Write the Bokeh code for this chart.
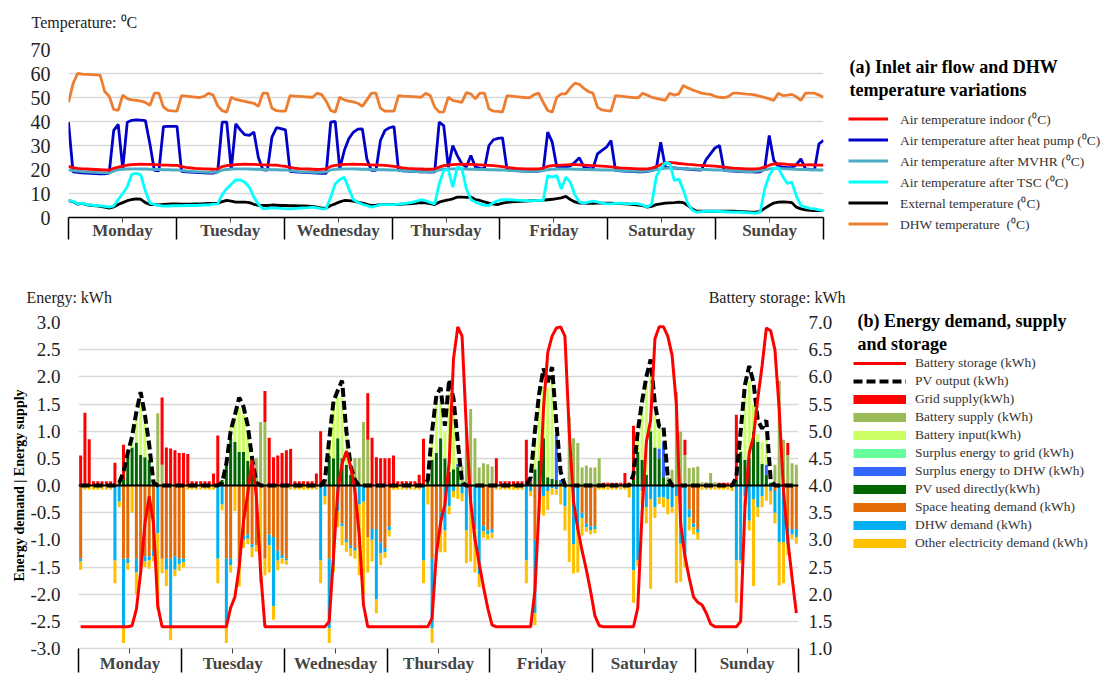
from bokeh.plotting import figure
from bokeh.models import (ColumnDataSource, Range1d, LinearAxis, FixedTicker, Legend, LegendItem,
                          Label, Span, NumeralTickFormatter, CustomJSTickFormatter)
from bokeh.layouts import row
from bokeh.embed import file_html
from bokeh.resources import INLINE

SERIF = "Liberation Serif"
days = ["Monday", "Tuesday", "Wednesday", "Thursday", "Friday", "Saturday", "Sunday"]

# ---------------- (a) temperatures, hourly (Mon 0h .. Sun 23h) ----------------
t_indoor = [
    21.3,20.8,20.5,20.3,20.2,20.1,20.0,19.9,19.8,19.7,20.5,21.0,21.4,21.8,22.0,22.1,22.2,22.1,22.1,22.0,21.9,21.8,21.8,21.7,
    21.7,21.2,20.9,20.7,20.5,20.4,20.3,20.2,20.1,20.3,21.2,21.6,21.8,22.0,22.1,22.2,22.1,22.1,22.0,21.9,21.9,21.8,21.8,21.5,
    21.3,20.9,20.6,20.4,20.3,20.2,20.1,20.0,20.1,20.3,21.3,21.7,21.9,22.1,22.1,22.2,22.1,22.1,22.0,21.9,21.8,21.8,21.7,21.5,
    21.3,21.0,20.7,20.5,20.4,20.3,20.2,20.1,20.1,20.3,21.0,21.6,21.8,22.0,22.1,22.2,22.1,22.1,22.0,21.9,21.8,21.7,21.6,21.4,
    21.2,20.9,20.7,20.5,20.4,20.3,20.2,20.2,20.3,20.6,21.3,21.6,21.7,21.8,21.9,22.0,22.0,21.9,21.8,21.7,21.6,21.5,21.4,21.3,
    21.1,20.9,20.7,20.6,20.5,20.4,20.3,20.2,20.3,20.6,21.2,22.0,22.6,23.0,22.8,22.5,22.3,22.1,22.0,21.8,21.7,21.6,21.5,21.4,
    21.2,21.0,20.8,20.6,20.5,20.4,20.3,20.2,20.3,20.5,21.0,21.8,22.3,22.4,22.3,22.1,22.0,21.9,21.8,21.9,22.0,21.9,21.8,21.8,
]
t_heatpump = [
    39.7,19.0,18.8,18.6,18.5,18.4,18.3,18.2,18.2,18.5,36.3,38.8,20.3,39.7,40.5,40.7,40.6,40.4,30.7,19.6,19.4,37.9,38.0,38.0,
    38.0,19.2,19.0,18.9,18.8,18.7,18.6,18.5,18.5,19.0,39.7,39.7,19.9,39.0,36.5,34.5,34.2,35.6,25.0,19.9,19.8,33.5,37.4,37.0,
    36.5,19.2,19.0,18.9,18.8,18.7,18.6,18.5,18.4,18.4,39.7,40.1,20.3,27.9,32.8,35.5,36.8,36.9,24.4,19.6,19.6,32.1,36.3,37.4,
    37.9,19.6,19.4,19.3,19.2,19.1,19.0,19.0,18.9,19.0,39.7,38.3,21.0,30.0,25.8,22.4,21.0,25.8,21.0,20.5,20.3,30.0,32.4,33.0,
    33.2,19.9,19.6,19.5,19.4,19.3,19.2,19.2,19.3,19.6,35.6,31.4,21.0,21.0,21.0,21.5,23.0,24.9,21.0,20.5,20.3,26.5,28.0,29.3,
    32.1,19.6,19.4,19.3,19.2,19.1,19.0,19.0,19.2,19.5,20.3,31.4,21.0,20.8,20.7,20.5,20.3,20.2,20.0,19.9,19.8,24.0,26.5,29.0,
    30.0,19.6,19.4,19.3,19.2,19.1,19.0,19.0,18.9,19.0,20.3,34.2,23.8,21.3,21.0,20.8,20.8,22.0,24.4,20.3,20.0,19.8,30.7,32.1,
]
t_mvhr = [
    19.8,19.5,19.3,19.1,19.0,18.9,18.8,18.7,18.6,18.6,19.3,19.9,20.1,20.2,20.3,20.3,20.2,20.2,20.1,20.0,20.0,19.9,19.9,19.8,
    19.8,19.5,19.3,19.2,19.1,19.0,18.9,18.8,18.8,19.0,19.7,20.0,20.2,20.3,20.3,20.3,20.2,20.1,20.1,20.0,20.0,19.9,19.9,19.8,
    19.8,19.5,19.3,19.1,19.0,18.9,18.8,18.8,18.8,19.0,19.8,20.1,20.2,20.3,20.3,20.3,20.2,20.1,20.1,20.0,20.0,19.9,19.9,19.8,
    19.8,19.6,19.4,19.3,19.2,19.1,19.0,19.0,19.0,19.2,19.8,20.1,20.3,20.3,20.3,20.3,20.2,20.1,20.1,20.0,20.0,19.9,19.9,19.8,
    19.8,19.6,19.5,19.4,19.3,19.2,19.2,19.2,19.3,19.5,19.9,20.1,20.2,20.2,20.2,20.2,20.1,20.1,20.0,20.0,19.9,19.9,19.8,19.8,
    19.7,19.6,19.5,19.4,19.3,19.2,19.2,19.2,19.3,19.5,19.9,20.3,20.6,20.8,20.7,20.5,20.4,20.3,20.2,20.1,20.0,20.0,19.9,19.8,
    19.8,19.6,19.5,19.4,19.3,19.2,19.1,19.1,19.2,19.4,19.8,20.3,20.5,20.5,20.4,20.3,20.2,20.1,20.0,20.0,19.9,19.9,19.8,19.8,
]
t_tsc = [
    7.1,6.7,5.7,6.0,5.4,5.2,5.0,4.8,4.6,4.3,4.8,7.5,10.0,12.8,18.0,18.4,17.8,11.0,6.0,5.4,5.0,4.7,4.8,4.9,
    4.9,4.9,5.0,5.0,5.0,5.1,5.2,5.3,5.6,5.7,9.5,12.0,13.8,15.7,15.6,14.7,12.6,8.5,5.5,3.6,3.8,4.0,3.9,3.8,
    3.6,3.6,3.7,3.9,4.0,4.1,4.3,4.0,3.6,3.6,8.5,14.0,15.8,16.8,12.0,7.5,6.3,5.5,5.0,4.3,4.8,5.4,5.4,5.4,
    5.4,5.6,5.8,6.0,6.3,6.8,7.4,7.0,6.3,5.6,14.0,19.6,20.0,12.6,21.0,20.5,12.0,7.5,6.4,5.6,5.2,5.0,6.2,7.0,
    7.4,7.4,7.4,7.2,7.1,7.0,6.9,7.0,7.1,7.1,17.5,16.8,17.5,11.9,16.8,14.7,9.5,6.5,6.0,6.4,6.8,6.5,6.0,5.8,
    5.7,5.9,6.0,5.8,5.7,5.9,5.7,5.2,4.3,5.5,17.0,20.5,22.8,22.5,15.5,16.0,11.5,5.7,3.0,2.2,2.4,2.6,2.6,2.6,
    2.5,2.4,2.3,2.2,2.2,2.1,2.0,1.9,1.8,2.2,12.0,17.5,20.5,20.8,17.0,14.2,14.7,9.0,5.0,4.3,3.8,3.6,3.2,2.9,
]
t_external = [
    7.0,6.6,5.6,5.9,5.3,5.1,4.9,4.6,4.3,3.9,4.4,5.4,6.2,7.0,7.5,7.8,7.6,6.2,5.4,5.4,5.3,5.5,5.6,5.7,
    5.7,5.6,5.6,5.6,5.7,5.7,5.8,5.9,5.9,6.0,6.6,7.1,6.8,6.4,6.4,6.4,6.2,5.5,5.0,5.0,5.0,5.2,5.1,5.0,
    5.0,4.9,4.9,4.8,4.8,4.7,4.6,4.3,3.9,3.9,5.0,5.7,6.5,7.1,7.0,6.8,6.4,6.0,5.5,5.0,5.2,5.4,5.4,5.4,
    5.4,5.5,5.6,5.7,5.8,6.0,6.2,6.1,5.8,5.4,6.4,6.9,7.3,7.8,8.5,8.5,8.4,8.5,7.5,7.1,6.5,6.0,5.6,5.4,
    6.0,6.3,6.5,6.6,6.7,6.8,6.9,7.0,7.1,7.2,7.4,7.6,7.9,8.2,8.8,7.5,6.5,6.0,6.0,5.9,5.9,6.0,6.0,6.0,
    6.0,5.9,5.8,5.7,5.6,5.4,5.2,4.9,4.3,4.6,5.4,5.7,6.0,6.1,6.2,6.4,6.2,5.0,3.5,2.6,2.6,2.6,2.6,2.6,
    2.6,2.6,2.6,2.6,2.5,2.4,2.3,2.2,2.2,2.6,3.8,5.0,6.0,6.4,6.5,6.4,6.2,4.3,3.6,3.2,3.0,2.9,2.9,2.9,
]
t_dhw = [
    48.0,55.7,60.0,59.7,59.6,59.5,59.4,59.3,52.5,50.5,45.0,44.6,51.0,49.5,49.0,48.8,48.5,48.0,46.7,51.8,51.8,46.0,44.6,44.4,
    44.3,50.8,50.6,50.4,50.2,50.0,50.5,51.8,51.0,46.5,44.5,43.9,50.1,49.2,48.8,48.4,48.0,47.6,46.3,51.8,51.8,45.5,44.5,44.3,
    44.3,50.8,50.6,50.5,50.4,50.2,50.1,51.8,51.2,48.5,44.6,43.9,50.1,49.0,48.5,48.2,47.6,46.3,49.0,51.8,51.8,45.5,44.3,44.3,
    44.3,50.8,50.6,50.5,50.4,50.3,50.1,51.8,50.8,46.0,43.9,44.0,50.1,48.8,48.4,48.0,52.0,51.5,49.4,51.8,51.8,45.3,44.3,44.2,
    43.9,50.8,50.6,50.4,50.2,50.0,49.9,51.2,51.8,48.0,44.6,43.9,50.1,51.5,51.5,54.0,56.0,55.5,53.8,52.5,51.8,46.0,44.8,44.5,
    44.3,50.8,50.6,50.4,50.2,50.0,49.9,51.8,51.0,50.1,49.6,49.2,48.8,51.8,51.0,51.5,55.0,54.0,53.2,52.5,51.8,51.5,51.3,50.5,
    50.1,49.9,50.5,51.8,51.8,51.6,51.4,51.3,51.0,50.5,50.0,49.4,48.8,51.8,50.8,51.0,51.3,50.3,48.8,51.8,51.8,51.8,51.0,50.1,
]
hours = list(range(168))

# ---------------- (b) energy, hourly ----------------
grid_supply = (
    [.55,1.34,.85,.08,.08,.08,.08,.08,.42,0,.65,0,0,0,0,0,0,0,0,1.24,.7,.68,.65,.6] +
    [.6,.58,.08,.08,.08,.08,.08,.22,.92,0,0,0,0,0,0,0,0,0,0,.57,.88,.52,.55,.6] +
    [.65,.67,.08,.08,.08,.08,.08,.22,1.0,.05,0,0,0,0,0,0,0,0,0,.86,.88,.52,.5,.5] +
    [.5,.55,.08,.08,.08,.08,.08,.2,.86,.05,0,0,0,0,0,0,0,0,0,0,0,0,0,0] +
    [0,.5,.08,.08,.08,.08,.08,.08,.84,.05,0,0,0,0,0,0,0,0,0,0,0,0,0,0] +
    [0,0,.05,.05,.05,.05,.05,.23,.05,1.0,0,0,0,0,0,0,0,0,0,0,0,.28,0,0] +
    [0,0,0,0,0,.05,.05,.05,.05,1.2,0,0,0,0,0,0,0,0,0,0,0,.22,0,0]
)
battery_supply = (
    [0]*18 + [1.33,.38,0,0,0,0] +
    [0]*17 + [.5,1.17,1.17,0,0,0,0] +
    [0]*16 + [.45,.5,1.17,.84,0,0,0,0] +
    [0]*17 + [.3,1.05,1.41,.87,.33,.41,.39] +
    [.35] + [0]*16 + [.05,1.26,.87,.78,.33,.37,.33] +
    [.33,.5] + [0]*15 + [.1,.29,1.72,.99,.56,.32,.33] +
    [.35,.06,.06,.23,.06] + [0]*13 + [.38,1.93,.84,.56,.41,.38]
)
battery_input = (
    [0]*11 + [.1,.17,.44,.96,.7,.1] + [0]*7 +
    [0]*11 + [.21,.46,.81,.68,.55,.25] + [0]*7 +
    [0]*10 + [.25,1.05,.75,1.12,.55,.1,0] + [0]*7 +
    [0]*10 + [.4,.95,.75,.5,1.45,1.1,.1] + [0]*7 +
    [0]*10 + [.55,1.1,.95,1.65,1.8,0,0] + [0]*7 +
    [0]*10 + [.2,1.0,1.73,1.1,.6,.35,0] + [0]*7 +
    [0]*10 + [.2,1.18,1.43,.5,.15,.4,.6] + [0]*7
)
surplus_grid = [0] * 168
surplus_dhw = (
    [0]*24 + [0]*24 + [0]*24 +
    [0]*16 + [.05] + [0]*7 +
    [0]*15 + [.83,.05] + [0]*7 +
    [0]*15 + [.18,.65] + [0]*7 +
    [0]*16 + [.18] + [0]*7
)
pv_direct = (
    [0]*9 + [.05,.1,.56,.7,.79,.56,.52,.47,.05] + [0]*6 +
    [0]*9 + [.1,.38,.87,.8,.62,.62,.45,.3,0] + [0]*6 +
    [0]*9 + [.05,.55,.5,.87,.5,.38,.2,.05,0] + [0]*6 +
    [0]*9 + [.08,.47,.6,.87,.5,.25,.3,.35,.05] + [0]*6 +
    [0]*9 + [.05,.3,.45,.87,.15,.12,.1,.05,0] + [0]*6 +
    [0]*9 + [.1,.62,.47,.2,1.0,.7,.5,.15,.05] + [0]*6 +
    [0]*9 + [.1,.62,.47,.5,1.0,.8,.4,.2,.05] + [0]*6
)
pv_output = (
    [0]*9 + [.05,.25,.6,.9,1.35,1.72,1.3,.75,.05] + [0]*6 +
    [0]*9 + [.05,.4,1.0,1.3,1.62,1.45,1.1,.5,.05] + [0]*6 +
    [0]*9 + [.1,.85,1.55,1.75,1.93,1.0,.35,.1,0] + [0]*6 +
    [0]*9 + [.1,1.0,1.65,1.8,1.1,1.95,1.6,.8,.05] + [0]*6 +
    [0]*9 + [.15,1.0,1.7,2.15,1.9,2.18,1.15,.25,0] + [0]*6 +
    [0]*9 + [.2,1.0,1.55,2.0,2.32,1.5,1.08,1.08,.15] + [0]*6 +
    [0]*9 + [.15,1.0,1.85,2.2,1.9,1.2,1.05,1.2,.1] + [0]*6
)
space_heating = (
    [1.35,0,0,0,0,0,0,0,0,0,1.35,1.35,0,1.35,1.35,1.3,1.3,1.2,0,1.35,1.35,1.35,1.3,1.35] +
    [1.35,0,0,0,0,0,0,0,0,0,1.35,1.35,0,1.35,.93,.9,1.08,1.1,0,1.35,.9,.95,1.2,1.28] +
    [1.35,0,0,0,0,0,0,0,0,0,1.35,1.35,0,.7,1.0,1.1,1.15,0,0,.95,.8,.8,1.05,1.15] +
    [.75,0,0,0,0,0,0,0,0,0,1.35,1.2,.5,0,0,0,0,0,0,0,0,0,.74,.83] +
    [.8,0,0,0,0,0,0,0,0,0,1.0,0,0,0,0,0,0,0,0,0,0,.5,.7,.75] +
    [.75,0,0,0,0,0,0,0,0,0,0,0,0,0,0,0,0,0,0,0,0,0,.44,.7] +
    [.8,0,0,0,0,0,0,0,0,0,0,0,0,0,0,0,0,0,.1,0,0,.77,.8,.8]
)
dhw_demand = (
    [.05,0,0,0,0,0,0,0,1.38,.3,1.28,.08,0,.25,.15,.1,.08,.1,.88,0,.2,1.25,.25,.1] +
    [.06,0,0,0,0,0,0,0,1.35,.35,1.25,.12,0,.06,.08,.08,.06,0,0,0,.2,1.27,.18,.06] +
    [.03,0,0,0,0,0,0,0,1.38,.2,1.28,.12,.47,.05,.05,.05,.05,.35,.3,0,.2,1.3,.2,.08] +
    [.07,0,0,0,0,0,0,0,1.38,0,1.28,.05,.2,.83,.38,.1,0,.15,.83,.3,.8,1.63,.1,.07] +
    [.07,0,0,0,0,0,0,0,1.38,.1,1.35,.2,.2,.1,.05,.07,0,.38,0,1.08,.8,.1,.07,.07] +
    [.05,0,0,0,0,0,0,0,0,1.56,1.38,.1,.4,.25,.4,.22,.22,.25,.4,.2,1.07,1.28,.15,.07] +
    [.07,0,0,0,0,0,0,0,0,1.38,1.38,.2,.65,.25,.4,.2,0,.1,.4,1.04,1.04,.3,.1,.15]
)
other_demand = (
    [.15,.08,.08,.08,.08,.08,.08,.08,.42,.1,.27,.12,.5,.4,.12,.1,.15,.1,1.4,.27,.3,.25,.12,.12] +
    [.1,.08,.08,.08,.08,.08,.08,.08,.45,.11,.3,.13,.47,.45,.14,.1,.18,.12,1.8,.3,.5,.25,.18,.1] +
    [.08,.08,.08,.08,.08,.08,.08,.08,.42,.15,.27,.12,.3,.35,.17,.15,.15,1.3,1.7,.65,.4,.25,.22,.1] +
    [.12,.08,.08,.08,.08,.08,.08,.08,.42,.35,.27,.15,.53,.4,.15,.12,.25,.14,.6,1.1,.8,.24,.12,.1] +
    [.1,.08,.08,.08,.08,.08,.08,.08,.42,.1,.22,.3,.35,.35,.12,.1,.35,.45,1.41,.54,.8,.32,.08,.08] +
    [.08,.08,.08,.08,.08,.08,.08,.08,.22,.6,.1,.25,.3,1.65,.2,.12,.18,.28,.1,1.6,.7,.22,.24,.13] +
    [.13,.08,.08,.08,.08,.08,.08,.08,.1,.78,.05,.2,.18,1.6,.18,.2,.28,.25,.2,.8,.76,.21,.08,.12]
)
battery_storage = (
    [1.4]*12 + [1.42,1.72,2.4,3.3,3.8,3.3,1.78] + [1.4]*5 +
    [1.4]*10 + [1.4,1.75,1.95,2.5,3.35,3.85,4.47,3.8,2.4] + [1.4]*5 +
    [1.4]*10 + [1.5,2.7,3.9,4.4,4.63,4.35,3.9,3.1,1.8] + [1.4]*5 +
    [1.4]*10 + [1.56,2.74,3.32,3.65,4.44,6.33,6.92,6.75,5.05,3.7,3.02,2.56,2.13,1.74] +
    [1.43] + [1.4]*9 + [2.07,3.65,5.42,6.45,6.75,6.9,6.92,6.75,5.0,3.71,3.2,2.8,2.45,2.05] +
    [1.6,1.42] + [1.4]*8 + [1.75,3.5,4.8,5.2,6.7,6.92,6.92,6.75,6.4,5.5,3.3,2.7,2.3,1.95] +
    [1.85,1.8,1.65,1.45] + [1.4]*6 + [1.5,3.6,4.6,4.9,5.6,6.2,6.9,6.85,6.5,5.4,3.9,3.0,2.3,1.65]
)

temp_series = [
    ("Air temperature indoor (\u2070C)", t_indoor, "#ff0000"),
    ("Air temperature after heat pump (\u2070C)", t_heatpump, "#0000c8"),
    ("Air temperature after MVHR (\u2070C)", t_mvhr, "#4bacc6"),
    ("Air temperature after TSC (\u2070C)", t_tsc, "#00ffff"),
    ("External temperature (\u2070C)", t_external, "black"),
    ("DHW temperature  (\u2070C)", t_dhw, "#ed7d31"),
]


def no_align(f):
    try:
        f.frame_align = False
    except Exception:
        pass
    return f


def text_panel(x0, x1, y0, y1):
    """A figure whose frame is the whole canvas; data coords == page pixels."""
    f = figure(width=x1 - x0, height=y1 - y0, x_range=Range1d(x0, x1), y_range=Range1d(y1, y0),
               x_axis_location=None, y_axis_location=None, min_border=0,
               output_backend="svg", toolbar_location=None)
    f.outline_line_color = None
    f.title.visible = False
    f.grid.visible = False
    return no_align(f)


def lbl(f, x, y, text, size="16px", bold=False, align="left", color="#222222"):
    f.add_layout(Label(x=x, y=y, text=text, text_font=SERIF, text_font_size=size,
                       text_font_style="bold" if bold else "normal", text_align=align,
                       text_baseline="middle", text_color=color))


# ================= header above (a) =================
hdr0 = text_panel(0, 1104, 0, 40)
lbl(hdr0, 31, 22, "Temperature: \u2070C")

# ================= panel (a) =================
p1 = figure(width=840, height=205, x_range=Range1d(0, 167), y_range=Range1d(0, 70),
            output_backend="svg", toolbar_location=None,
            min_border_left=68, min_border_right=17, min_border_top=9, min_border_bottom=28)
no_align(p1)
p1.title.visible = False
p1.outline_line_color = None
p1.xgrid.visible = False
p1.ygrid.ticker = FixedTicker(ticks=[10, 20, 30, 40, 50, 60, 70])
p1.ygrid.grid_line_color = "#d9d9d9"
p1.ygrid.grid_line_width = 1.5
ya1 = p1.yaxis[0]
ya1.ticker = FixedTicker(ticks=[0, 10, 20, 30, 40, 50, 60, 70])
ya1.axis_line_color = None
ya1.major_tick_line_color = None
ya1.major_tick_out = 0
ya1.minor_tick_line_color = None
ya1.minor_tick_out = 0
ya1.major_label_text_font = SERIF
ya1.major_label_text_font_size = "20px"
ya1.major_label_text_color = "#222222"
ya1.major_label_standoff = 18

top_centers = [(k + 0.5) * 167 / 7 for k in range(7)]
top_bounds = [k * 167 / 7 for k in range(8)]
ax1 = p1.xaxis[0]
ax1.ticker = FixedTicker(ticks=top_centers, minor_ticks=top_bounds)
ax1.formatter = CustomJSTickFormatter(args=dict(names=days), code="return names[index]")
ax1.axis_line_color = "black"
ax1.axis_line_width = 1.5
ax1.major_tick_in = 0
ax1.major_tick_out = 5
ax1.major_tick_line_color = "#444444"
ax1.minor_tick_in = 0
ax1.minor_tick_out = 22
ax1.minor_tick_line_color = "black"
ax1.minor_tick_line_width = 1.5
ax1.major_label_text_font = SERIF
ax1.major_label_text_font_style = "bold"
ax1.major_label_text_font_size = "17px"
ax1.major_label_standoff = -19

W = 2.8
draw_order = [5, 1, 2, 0, 4, 3]  # DHW, heat pump, MVHR, indoor, external, TSC (TSC on top)
for k in draw_order:
    name, vals, col = temp_series[k]
    p1.line(hours, vals, line_color=col, line_width=W)

# legend + title for (a), in its own panel to the right
leg1 = text_panel(840, 1104, 40, 245)
lbl(leg1, 849, 66, "(a) Inlet air flow and DHW", size="18px", bold=True, color="black")
lbl(leg1, 849, 89, "temperature variations", size="18px", bold=True, color="black")
items1 = []
for name, vals, col in temp_series:
    r = leg1.line([-10, -9], [-10, -10], line_color=col, line_width=W)
    items1.append(LegendItem(label=name, renderers=[r]))
leg1.add_layout(Legend(items=items1, location=(8, 11), glyph_width=40, glyph_height=21,
                       label_height=21, spacing=0, label_standoff=12, padding=0, margin=0,
                       border_line_alpha=0, background_fill_alpha=0, label_text_font=SERIF,
                       label_text_font_size="13.5px", label_text_color="#333333"))

# ================= header above (b) =================
hdr2 = text_panel(0, 1104, 245, 310)
lbl(hdr2, 26, 297, "Energy: kWh")
lbl(hdr2, 845, 297, "Battery storage: kWh", align="right")

# ================= panel (b) =================
src = ColumnDataSource(dict(
    x=hours, pvd=pv_direct, sdhw=surplus_dhw, sgrid=surplus_grid, binp=battery_input,
    bsup=battery_supply, grid=grid_supply,
    n_sh=[-v for v in space_heating], n_dhw=[-v for v in dhw_demand], n_oth=[-v for v in other_demand],
    pv=pv_output, batt=battery_storage))

p2 = figure(width=845, height=365, x_range=Range1d(-0.5, 167.5), y_range=Range1d(-3, 3),
            output_backend="svg", toolbar_location=None,
            min_border_left=78, min_border_right=47, min_border_top=12, min_border_bottom=24)
no_align(p2)
p2.title.visible = False
p2.outline_line_color = None
p2.extra_y_ranges = {"batt": Range1d(1, 7)}
p2.xgrid.visible = False
p2.ygrid.ticker = FixedTicker(ticks=[-2.5, -2, -1.5, -1, -0.5, 0, 0.5, 1, 1.5, 2, 2.5, 3])
p2.ygrid.grid_line_color = "#d9d9d9"
p2.ygrid.grid_line_width = 1.5

yl = p2.yaxis[0]
yl.ticker = FixedTicker(ticks=[-3, -2.5, -2, -1.5, -1, -0.5, 0, 0.5, 1, 1.5, 2, 2.5, 3])
yl.formatter = NumeralTickFormatter(format="0.0")
yl.axis_label = "Energy demand | Energy supply"
yl.axis_label_text_font = SERIF
yl.axis_label_text_font_size = "14px"
yl.axis_label_text_font_style = "bold"
yl.axis_label_text_color = "black"
yl.axis_label_standoff = 0
yr = LinearAxis(y_range_name="batt",
                ticker=FixedTicker(ticks=[1, 1.5, 2, 2.5, 3, 3.5, 4, 4.5, 5, 5.5, 6, 6.5, 7]),
                formatter=NumeralTickFormatter(format="0.0"))
p2.add_layout(yr, "right")
for ax, so in ((yl, 18), (yr, 10)):
    ax.axis_line_color = None
    ax.major_tick_line_color = None
    ax.major_tick_out = 0
    ax.minor_tick_line_color = None
    ax.minor_tick_out = 0
    ax.major_label_text_font = SERIF
    ax.major_label_text_font_size = "19px"
    ax.major_label_text_color = "#222222"
    ax.major_label_standoff = so

bot_centers = [24 * k + 11.5 for k in range(7)]
bot_bounds = [24 * k - 0.5 for k in range(8)]
ax2 = p2.xaxis[0]
ax2.ticker = FixedTicker(ticks=bot_centers, minor_ticks=bot_bounds)
ax2.formatter = CustomJSTickFormatter(args=dict(names=days), code="return names[index]")
ax2.axis_line_color = "#d9d9d9"
ax2.axis_line_width = 1.5
ax2.major_tick_in = 0
ax2.major_tick_out = 5
ax2.major_tick_line_color = "#444444"
ax2.minor_tick_in = 0
ax2.minor_tick_out = 24
ax2.minor_tick_line_color = "black"
ax2.minor_tick_line_width = 1.5
ax2.major_label_text_font = SERIF
ax2.major_label_text_font_style = "bold"
ax2.major_label_text_font_size = "17px"
ax2.major_label_standoff = -19

pos_cols = ["pvd", "sdhw", "sgrid", "binp", "bsup", "grid"]
pos_colors = ["#006600", "#3366ff", "#66ff99", "#ccff66", "#9bbb59", "#ff0000"]
p2.vbar_stack(pos_cols, x="x", width=0.7, fill_color=pos_colors, line_color=None, source=src)
neg_cols = ["n_sh", "n_dhw", "n_oth"]
neg_colors = ["#e36c09", "#00b0f0", "#ffc000"]
p2.vbar_stack(neg_cols, x="x", width=0.7, fill_color=neg_colors, line_color=None, source=src)

p2.add_layout(Span(location=0, dimension="width", line_color="black", line_width=2))
p2.line("x", "pv", source=src, line_color="black", line_width=4, line_dash="9 4")
p2.line("x", "batt", source=src, y_range_name="batt", line_color="#ff0000", line_width=3)

# legend + title for (b)
leg2 = text_panel(845, 1104, 310, 675)
lbl(leg2, 857, 320, "(b) Energy demand, supply", size="18px", bold=True, color="black")
lbl(leg2, 857, 343, "and storage", size="18px", bold=True, color="black")
legend_entries2 = [
    ("Battery storage (kWh)", "#ff0000", 3, None),
    ("PV output (kWh)", "black", 4, "9 4"),
    ("Grid supply(kWh)", pos_colors[5], 9, None),
    ("Battery supply (kWh)", pos_colors[4], 9, None),
    ("Battery input(kWh)", pos_colors[3], 9, None),
    ("Surplus energy to grid (kWh)", pos_colors[2], 9, None),
    ("Surplus energy to DHW (kWh)", pos_colors[1], 9, None),
    ("PV used directly(kWh)", pos_colors[0], 9, None),
    ("Space heating demand (kWh)", neg_colors[0], 9, None),
    ("DHW demand (kWh)", neg_colors[1], 9, None),
    ("Other electricity demand (kWh)", neg_colors[2], 9, None),
]
items2 = []
for name, col, lw, dash in legend_entries2:
    kw = dict(line_color=col, line_width=lw, line_cap="butt")
    if dash:
        kw["line_dash"] = dash
    r = leg2.line([-10, -9], [-10, -10], **kw)
    items2.append(LegendItem(label=name, renderers=[r]))
leg2.add_layout(Legend(items=items2, location=(8, 123), glyph_width=53, glyph_height=18,
                       label_height=18, spacing=0, label_standoff=9, padding=0, margin=0,
                       border_line_alpha=0, background_fill_alpha=0, label_text_font=SERIF,
                       label_text_font_size="13.5px", label_text_color="#333333"))

top_row = row(p1, leg1, spacing=0)
bot_row = row(p2, leg2, spacing=0)
open("out.html", "w").write(file_html([hdr0, top_row, hdr2, bot_row], INLINE))
